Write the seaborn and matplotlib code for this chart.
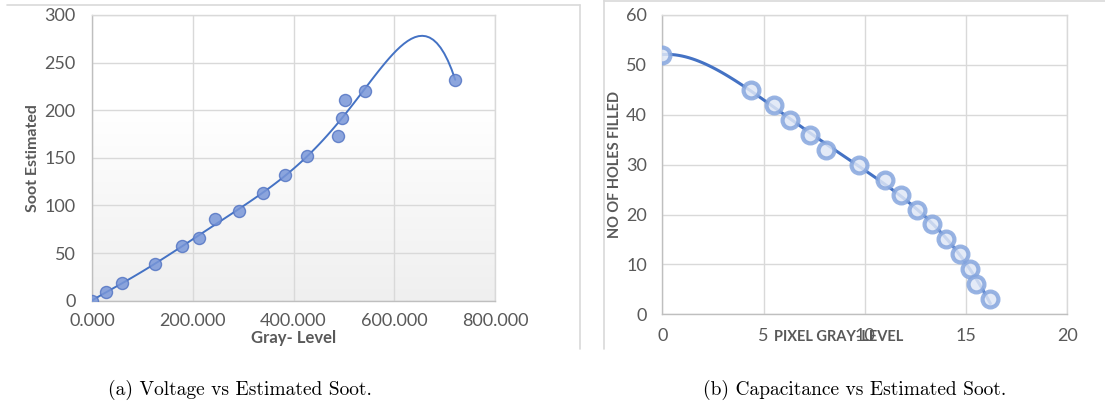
"""Two Excel-style scatter charts with polynomial trendlines, side by side."""

import matplotlib
matplotlib.use("Agg")
import matplotlib.pyplot as plt
from matplotlib.colors import LinearSegmentedColormap
from matplotlib.lines import Line2D
import numpy as np
import pandas as pd
import seaborn as sns

# (a) gray level vs soot estimated
gray_level = [0, 28, 60, 124, 179, 213, 245, 292, 340, 383, 426, 488, 497, 502, 542, 721]
soot_estimated = [0, 9, 19, 38, 57, 66, 86, 94, 113, 132, 152, 173, 192, 211, 220, 232]

# (b) pixel gray level vs holes filled
pixel_gray = [0, 4.4, 5.5, 6.3, 7.3, 8.1, 9.7, 11.0, 11.8, 12.6, 13.3, 14.0, 14.7, 15.2, 15.5, 16.2]
holes_filled = [52, 45, 42, 39, 36, 33, 30, 27, 24, 21, 18, 15, 12, 9, 6, 3]

left_xticks = [0, 200, 400, 600, 800]
left_yticks = [0, 50, 100, 150, 200, 250, 300]
right_xticks = [0, 5, 10, 15, 20]
right_yticks = [0, 10, 20, 30, 40, 50, 60]

caption_a = "(a) Voltage vs Estimated Soot."
caption_b = "(b) Capacitance vs Estimated Soot."

BLUE = "#4472C4"
TEXT = "#595959"
GRID = "#d9d9d9"

sns.set_theme(style="whitegrid")
plt.rcParams["font.family"] = ["Lato", "DejaVu Sans"]


def style_axes(ax, xticks, yticks, xfmt, xpad, ypad):
    ax.set_xlim(xticks[0], xticks[-1])
    ax.set_ylim(yticks[0], yticks[-1])
    ax.set_xticks(xticks)
    ax.set_yticks(yticks)
    ax.set_xticklabels([xfmt(v) for v in xticks])
    ax.tick_params(axis="both", length=0, labelsize=13, labelcolor=TEXT)
    ax.tick_params(axis="x", pad=xpad)
    ax.tick_params(axis="y", pad=ypad)
    ax.grid(True, color=GRID, linewidth=1)
    ax.set_axisbelow(True)
    for side, spine in ax.spines.items():
        spine.set_visible(True)
        spine.set_color("#bfbfbf" if side in ("left", "bottom") else GRID)
        spine.set_linewidth(1)


fig = plt.figure(figsize=(11.05, 4.16), dpi=100)
fig.patch.set_facecolor("white")

# ---- left chart ----
ax1 = fig.add_axes([0.0833, 0.2772, 0.3647, 0.6868])
ax1.set_facecolor("white")
grad = np.linspace(1, 0, 256).reshape(-1, 1)
cmap = LinearSegmentedColormap.from_list("bg", ["#efefef", "#f7f7f7", "#ffffff", "#ffffff"])
ax1.imshow(grad, extent=[0, 1, 0, 1], transform=ax1.transAxes, cmap=cmap,
           aspect="auto", zorder=0)

df_a = pd.DataFrame({"gray": gray_level, "soot": soot_estimated})
sns.regplot(data=df_a, x="gray", y="soot", order=6, ci=None, scatter=False,
            line_kws={"color": BLUE, "linewidth": 1.4, "zorder": 3}, ax=ax1)
sns.scatterplot(data=df_a, x="gray", y="soot", s=75, color="#7896d8",
                edgecolor="#5576c4", linewidth=1, alpha=0.85, zorder=4, ax=ax1)
style_axes(ax1, left_xticks, left_yticks, lambda v: f"{v:.3f}", 9, 12)
ax1.set_xlabel("Gray- Level", fontsize=12, fontweight="bold", color=TEXT)
ax1.set_ylabel("Soot Estimated", fontsize=11.5, fontweight="bold", color=TEXT)
ax1.xaxis.set_label_coords(0.5, -0.13)
ax1.xaxis.label.set_va("center")
ax1.yaxis.set_label_coords(-0.146, 0.5)
ax1.yaxis.label.set_va("center")

# ---- right chart ----
ax2 = fig.add_axes([0.5994, 0.2445, 0.3665, 0.7195])
ax2.set_facecolor("white")
df_b = pd.DataFrame({"pixel": pixel_gray, "holes": holes_filled})
sns.regplot(data=df_b, x="pixel", y="holes", order=4, ci=None, scatter=False,
            line_kws={"color": BLUE, "linewidth": 2.2, "zorder": 3}, ax=ax2)
sns.scatterplot(data=df_b, x="pixel", y="holes", s=130, color="#dfe7f6",
                edgecolor="#86a6de", linewidth=3, alpha=0.85, zorder=4, ax=ax2)
style_axes(ax2, right_xticks, right_yticks, lambda v: f"{v:g}", 10, 11)
# the axis title sits on the tick row, as in the source chart
ax2.set_xlabel("PIXEL GRAY-LEVEL", fontsize=10.5, fontweight="bold", color=TEXT)
ax2.set_ylabel("NO OF HOLES FILLED", fontsize=10.5, fontweight="bold", color=TEXT)
ax2.xaxis.set_label_coords(0.436, -0.076)
ax2.xaxis.label.set_va("center")
ax2.yaxis.set_label_coords(-0.117, 0.5)
ax2.yaxis.label.set_va("center")

# chart frames
frame = dict(color=GRID, linewidth=1.2, transform=fig.transFigure)
fig.add_artist(Line2D([0.006, 0.525], [0.988, 0.988], **frame))
fig.add_artist(Line2D([0.525, 0.525], [0.988, 0.161], **frame))
fig.add_artist(Line2D([0.5466, 0.5466], [1.0, 0.161], **frame))
fig.add_artist(Line2D([0.5466, 1.0], [0.998, 0.998], **frame))

# captions
fig.text(240 / 1105, 1 - 390 / 416, caption_a, family="cmr10", fontsize=14,
         ha="center", va="center", color="black")
fig.text(855 / 1105, 1 - 390 / 416, caption_b, family="cmr10", fontsize=14,
         ha="center", va="center", color="black")

fig.savefig("out.png", dpi=100)
